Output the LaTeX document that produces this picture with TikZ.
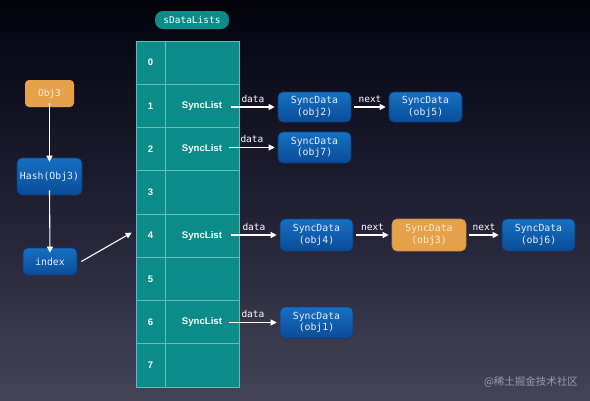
\documentclass[tikz,border=0pt]{standalone}
\usepackage{fontspec}
\setmainfont{Liberation Sans}
\newfontfamily\monof{DejaVu Sans Mono}
\newfontfamily\cjkf{Noto Sans CJK SC}
\usetikzlibrary{arrows.meta}
\definecolor{tealfill}{HTML}{0B8C89}
\definecolor{tealline}{HTML}{63BDBA}
\definecolor{bluetop}{HTML}{1670C2}
\definecolor{bluebot}{HTML}{0A4C98}
\definecolor{blueedge}{HTML}{083E7E}
\definecolor{orangefill}{HTML}{E6A24A}
\definecolor{orangetext}{HTML}{FBEBD2}
\definecolor{bgA}{HTML}{000000}
\definecolor{bgB}{HTML}{080816}
\definecolor{bgC}{HTML}{26253A}
\definecolor{bgD}{HTML}{6C6A7C}
\definecolor{wmark}{HTML}{9C9AAA}
\pgfdeclareverticalshading{bgshade}{100bp}{color(0bp)=(bgD); color(45bp)=(bgC); color(70bp)=(bgB); color(78bp)=(bgA); color(100bp)=(bgA)}
\tikzset{
  bluebox/.style={rounded corners=5pt, draw=blueedge, line width=0.6pt, top color=bluetop, bottom color=bluebot,
    text=white!92!blue, font=\monof\fontsize{9.8}{11.5}\selectfont, align=center, inner sep=0pt},
  orangebox/.style={rounded corners=5pt, draw=orangefill!85!black, line width=0.6pt, fill=orangefill,
    text=orangetext, font=\monof\fontsize{9.8}{11.5}\selectfont, align=center, inner sep=0pt},
  numcell/.style={draw=tealline, line width=0.7pt, fill=tealfill, minimum width=29pt, minimum height=43.25pt,
    inner sep=0pt, text=white, font=\bfseries\fontsize{9.5}{10}\selectfont},
  listcell/.style={draw=tealline, line width=0.7pt, fill=tealfill, minimum width=74pt, minimum height=43.25pt,
    inner sep=0pt},
  sltext/.style={text=white, font=\bfseries\fontsize{9.6}{11}\selectfont, inner sep=0pt},
  arr/.style={draw=white, line width=1.1pt, -{Triangle[length=6pt,width=6pt]}},
  lbl/.style={text=white, font=\monof\fontsize{9.5}{11}\selectfont, inner sep=1pt},
}
\begin{document}
\begin{tikzpicture}[x=1pt,y=-1pt]
\useasboundingbox (0,0) rectangle (590,400);
\shade[shading=bgshade] (0,0) rectangle (590,400);

% title tag
\node[rounded corners=8pt, fill=tealfill, text=white, font=\monof\fontsize{9.5}{10}\selectfont,
  minimum width=74pt, minimum height=18pt, inner sep=0pt] (title) at (192,20) {sDataLists};

% table
\foreach \i in {0,...,7} {
  \pgfmathsetmacro{\yc}{41+43.25*\i+21.625}
  \node[numcell] (n\i) at (150.5,\yc) {\i};
  \node[listcell] (c\i) at (202,\yc) {};
}
\node[sltext] (s1) at (c1) {SyncList};
\node[sltext] (s2) at (c2) {SyncList};
\node[sltext] (s4) at (c4) {SyncList};
\node[sltext] (s6) at (c6) {SyncList};

% left chain
\node[rounded corners=4pt, fill=orangefill, text=orangetext, font=\monof\fontsize{9.5}{10}\selectfont,
  minimum width=49pt, minimum height=27pt, inner sep=0pt] (obj) at (49.5,93.5) {Obj3};
\node[bluebox, font=\monof\fontsize{9.8}{10}\selectfont, minimum width=65pt, minimum height=37pt] (hash) at (49.5,176.5) {Hash(Obj3)};
\node[bluebox, font=\monof\fontsize{9.8}{10}\selectfont, minimum width=54pt, minimum height=27pt] (idx) at (50,261.5) {index};
\draw[arr] ([yshift=4pt]obj.south) -- ([yshift=-4pt]hash.north);
\draw[arr] ([yshift=5pt]hash.south) -- ([yshift=-5pt]idx.north);
\coordinate (tin) at ([xshift=-4pt,yshift=3pt]n4.west);
\draw[arr] ([xshift=4pt]idx.east) -- (tin);

% sync data boxes
\node[bluebox, minimum width=73pt, minimum height=30pt] (d2) at (314.5,107) {SyncData\\(obj2)};
\node[bluebox, minimum width=73pt, minimum height=30pt] (d5) at (425.5,107) {SyncData\\(obj5)};
\node[bluebox, minimum width=73pt, minimum height=31pt] (d7) at (314.5,147.5) {SyncData\\(obj7)};
\node[bluebox, minimum width=73pt, minimum height=32pt] (d4) at (316.5,235) {SyncData\\(obj4)};
\node[orangebox, minimum width=74pt, minimum height=32pt] (d3) at (429,235) {SyncData\\(obj3)};
\node[bluebox, minimum width=73pt, minimum height=32pt] (d6) at (538.5,235) {SyncData\\(obj6)};
\node[bluebox, minimum width=73pt, minimum height=31pt] (d1) at (316.5,322.5) {SyncData\\(obj1)};

% data arrows
\draw[arr] ([xshift=9pt]s1.east |- d2.west) -- node[lbl, above=3pt] {data} ([xshift=-3pt]d2.west);
\draw[arr] ([xshift=7pt]s2.east |- d7.west) -- node[lbl, above=3pt] {data} ([xshift=-3pt]d7.west);
\draw[arr] ([xshift=9pt]s4.east |- d4.west) -- node[lbl, above=3pt] {data} ([xshift=-3pt]d4.west);
\draw[arr] ([xshift=7pt]s6.east |- d1.west) -- node[lbl, above=3pt] {data} ([xshift=-3pt]d1.west);
% next arrows
\draw[arr] ([xshift=3pt]d2.east) -- node[lbl, above=3pt] {next} ([xshift=-3pt]d5.west);
\draw[arr] ([xshift=3pt]d4.east) -- node[lbl, above=3pt] {next} ([xshift=-3pt]d3.west);
\draw[arr] ([xshift=3pt]d3.east) -- node[lbl, above=3pt] {next} ([xshift=-3pt]d6.west);

% watermark
\node[text=wmark, font=\cjkf\fontsize{10.5}{12}\selectfont, inner sep=0pt] (wm) at (531,382) {@稀土掘金技术社区};
\end{tikzpicture}
\end{document}
